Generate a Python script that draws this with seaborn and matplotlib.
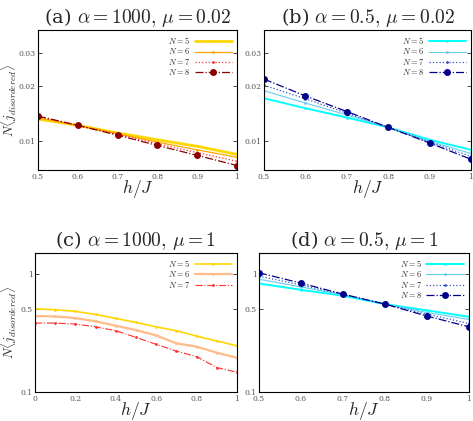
import numpy as np
import pandas as pd
import seaborn as sns
import matplotlib.pyplot as plt
from matplotlib.ticker import FixedLocator, NullLocator

# h/J grids
h_ab = [0.5, 0.6, 0.7, 0.8, 0.9, 1.0]
h_c = [0.0, 0.1, 0.2, 0.3, 0.4, 0.5, 0.6, 0.7, 0.8, 0.9, 1.0]

# (a) alpha=1000, mu=0.02
a_N5 = [0.0132, 0.0122, 0.0111, 0.0102, 0.0094, 0.0085]
a_N6 = [0.0134, 0.0122, 0.0110, 0.0099, 0.0090, 0.0082]
a_N7 = [0.0136, 0.0122, 0.0109, 0.0097, 0.0087, 0.0078]
a_N8 = [0.0137, 0.0122, 0.0108, 0.0095, 0.0084, 0.0074]

# (b) alpha=0.5, mu=0.02
b_N5 = [0.0171, 0.0151, 0.01345, 0.0119, 0.0102, 0.0090]
b_N6 = [0.0188, 0.0161, 0.0139, 0.0119, 0.0100, 0.0086]
b_N7 = [0.0201, 0.0170, 0.0142, 0.0119, 0.0099, 0.0083]
b_N8 = [0.0217, 0.0176, 0.0145, 0.0119, 0.0098, 0.0080]

# (c) alpha=1000, mu=1
c_N5 = [0.505, 0.497, 0.481, 0.453, 0.419, 0.388, 0.356, 0.330, 0.297, 0.270, 0.246]
c_N6 = [0.439, 0.436, 0.422, 0.396, 0.364, 0.334, 0.301, 0.258, 0.242, 0.215, 0.195]
c_N7 = [0.383, 0.383, 0.376, 0.356, 0.330, 0.290, 0.253, 0.222, 0.199, 0.161, 0.147]

# (d) alpha=0.5, mu=1
d_N5 = [0.828, 0.732, 0.652, 0.554, 0.490, 0.433]
d_N6 = [0.900, 0.775, 0.665, 0.554, 0.470, 0.411]
d_N7 = [0.955, 0.805, 0.670, 0.554, 0.455, 0.380]
d_N8 = [1.020, 0.834, 0.673, 0.554, 0.439, 0.356]

sns.set_style("white")
plt.rcParams['mathtext.fontset'] = 'cm'
plt.rcParams['font.family'] = ['DejaVu Serif']

fig = plt.figure(figsize=(4.73, 4.21), dpi=100)
W, H = 473.0, 421.0


def make_ax(left, top, right, bottom):
    ax = fig.add_axes([left / W, 1 - bottom / H, (right - left) / W, (bottom - top) / H])
    ax.px_left, ax.px_width = left, right - left
    return ax


def draw(ax, x, series, styles):
    for label, y, st in zip(["$N=5$", "$N=6$", "$N=7$", "$N=8$"], series, styles):
        df = pd.DataFrame({"h": x, "v": y})
        sns.lineplot(data=df, x="h", y="v", ax=ax, label=label, color=st[0], linestyle=st[1],
                     linewidth=st[2], marker="o", markersize=st[3], markeredgewidth=0)


def finish(ax, title, xlim, ylim, yticks, ylabels, xticks, xlabels, ylab=True):
    ax.set_yscale("log")
    ax.set_xlim(*xlim)
    ax.set_ylim(*ylim)
    ax.yaxis.set_major_locator(FixedLocator(yticks))
    ax.yaxis.set_minor_locator(NullLocator())
    ax.set_yticklabels(ylabels)
    ax.set_xticks(xticks)
    ax.set_xticklabels(xlabels)
    ax.tick_params(direction="in", length=3, width=0.6, labelsize=5.5, labelcolor="#555555",
                   right=True, left=True, pad=2.5)
    ax.tick_params(axis="y", pad=1.5)
    for s in ax.spines.values():
        s.set_linewidth(0.8)
        s.set_color("black")
    ax.set_xlabel("$h/J$", fontsize=12.5, labelpad=-2.5)
    if ylab:
        ax.set_ylabel(r"$N\langle j_{disordered}\rangle$", fontsize=9.5)
        ax.yaxis.label.set_va("center")
        ax.yaxis.set_label_coords((9.5 - ax.px_left) / ax.px_width, 0.5)
    else:
        ax.set_ylabel("")
    ax.set_title(title, fontsize=14, pad=5)
    ax.legend(loc="upper right", frameon=False, fontsize=6, handlelength=4.5,
              labelspacing=0.05, borderaxespad=0.2, markerfirst=False, handletextpad=0.5)


warm_ab = [("#ffd700", "-", 2.0, 2), ("#ffa500", "-", 0.9, 2),
           ("#ff3030", ":", 0.9, 2), ("#8b0000", "-.", 0.9, 5)]
cool_ab = [("#00ffff", "-", 1.4, 2), ("#66ccee", "-", 0.8, 2),
           ("#3355cc", ":", 0.9, 2), ("#00008b", "-.", 0.9, 5)]
warm_c = [("#ffd700", "-", 1.2, 2), ("#ffbb88", "-", 1.6, 2), ("#ff3030", "-.", 0.8, 2)]

ya = [0.01, 0.02, 0.03]
yal = ["0.01", "0.02", "0.03"]
yc = [0.1, 0.5, 1.0]
ycl = ["0.1", "0.5", "1"]
xab = [0.5, 0.6, 0.7, 0.8, 0.9, 1.0]
xabl = ["0.5", "0.6", "0.7", "0.8", "0.9", "1"]
xc = [0, 0.2, 0.4, 0.6, 0.8, 1.0]
xcl = ["0", "0.2", "0.4", "0.6", "0.8", "1"]

ax = make_ax(38, 30, 237, 170)
draw(ax, h_ab, [a_N5, a_N6, a_N7, a_N8], warm_ab)
finish(ax, r"(a) $\alpha = 1000,\,\mu = 0.02$", (0.5, 1.0), (0.007, 0.04), ya, yal, xab, xabl)

ax = make_ax(264, 30, 471, 170)
draw(ax, h_ab, [b_N5, b_N6, b_N7, b_N8], cool_ab)
finish(ax, r"(b) $\alpha = 0.5,\,\mu = 0.02$", (0.5, 1.0), (0.007, 0.04), ya, yal, xab, xabl, ylab=False)

ax = make_ax(35, 253, 237, 392)
draw(ax, h_c, [c_N5, c_N6, c_N7], warm_c)
finish(ax, r"(c) $\alpha = 1000,\,\mu = 1$", (0.0, 1.0), (0.1, 1.5), yc, ycl, xc, xcl)

ax = make_ax(259, 253, 469, 392)
draw(ax, h_ab, [d_N5, d_N6, d_N7, d_N8], cool_ab)
finish(ax, r"(d) $\alpha = 0.5,\,\mu = 1$", (0.5, 1.0), (0.1, 1.5), yc, ycl, xab, xabl, ylab=False)

fig.savefig("out.png", dpi=100)
